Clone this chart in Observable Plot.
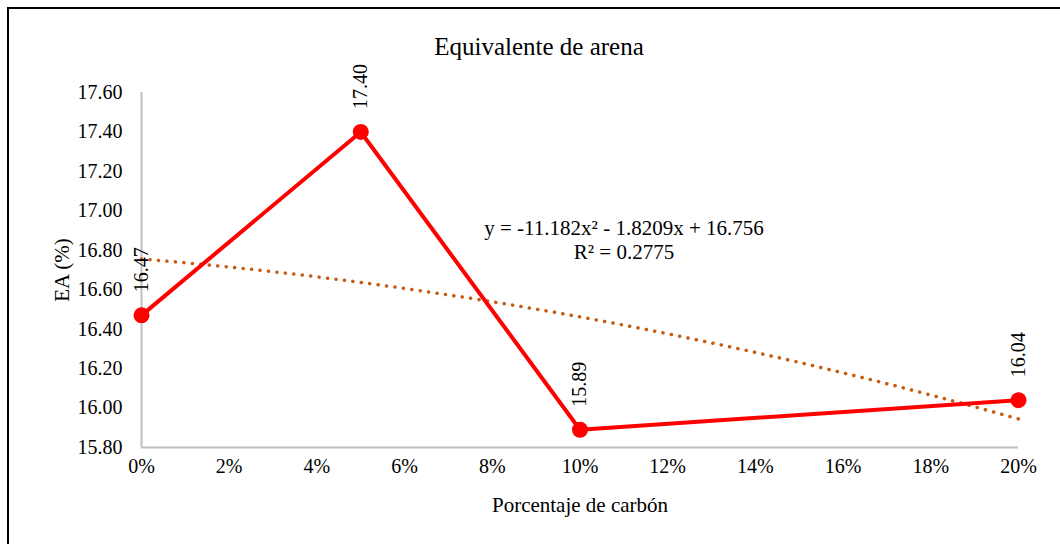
<!DOCTYPE html>
<html><head><meta charset="utf-8">
<script src="https://cdn.jsdelivr.net/npm/d3@7"></script>
<script src="https://cdn.jsdelivr.net/npm/@observablehq/plot@0.6"></script>
<style>
body{margin:0;background:#fff;font-family:'Liberation Serif',serif}
#wrap{position:relative;width:1060px;height:544px;overflow:hidden;background:#fff}
#frame{position:absolute;left:7px;top:7px;width:1100px;height:600px;border:2.5px solid #000;box-sizing:border-box;pointer-events:none}
#chart{position:absolute;left:0;top:0}
#chart svg, #chart svg text{font-family:'Liberation Serif',serif !important}
</style></head><body>
<div id="wrap"><div id="chart"></div><div id="frame"></div></div>
<script>
// Data
const carbon = [0, 0.05, 0.10, 0.20];
const ea = [16.47, 17.40, 15.89, 16.04];
const yTicks = [15.8, 16.0, 16.2, 16.4, 16.6, 16.8, 17.0, 17.2, 17.4, 17.6];
const xTicks = [0, 0.02, 0.04, 0.06, 0.08, 0.10, 0.12, 0.14, 0.16, 0.18, 0.20];
const trendCoef = [-11.182, -1.8209, 16.756]; // quadratic trendline from chart
const rSquared = 0.2775;
const titleText = "Equivalente de arena";
const xTitle = "Porcentaje de carbón";
const yTitle = "EA (%)";

const points = carbon.map((c, i) => ({x: c, y: ea[i]}));
const trend = d3.range(0, 0.2001, 0.0025).map(x => ({x, y: trendCoef[0]*x*x + trendCoef[1]*x + trendCoef[2]}));
const eqText = `y = ${trendCoef[0]}x² - ${Math.abs(trendCoef[1])}x + ${trendCoef[2]}\nR² = ${rSquared}`;

const font = "Liberation Serif, serif";
const chart = Plot.plot({
  width: 1060, height: 544,
  marginLeft: 141, marginRight: 42, marginTop: 92, marginBottom: 97,
  style: {fontFamily: font, fontSize: "20px", color: "#000", background: "#fff"},
  x: {domain: [0, 0.2]},
  y: {domain: [15.8, 17.6]},
  marks: [
    Plot.ruleX([0], {stroke: "#bfbfbf", strokeWidth: 2}),
    Plot.ruleY([15.8], {stroke: "#bfbfbf", strokeWidth: 2}),
    Plot.axisY(yTicks, {tickSize: 0, tickPadding: 19, tickFormat: d => d.toFixed(2), fontSize: 20, fontFamily: font, fill: "#000", label: null}),
    Plot.axisX(xTicks, {tickSize: 0, tickPadding: 11, tickFormat: d => Math.round(d*100) + "%", fontSize: 20, fontFamily: font, fill: "#000", label: null}),
    Plot.line(trend, {x: "x", y: "y", stroke: "#c55a11", strokeWidth: 3.5, strokeDasharray: "0.1 8.4", strokeLinecap: "round"}),
    Plot.line(points, {x: "x", y: "y", stroke: "#ff0000", strokeWidth: 4}),
    Plot.dot(points, {x: "x", y: "y", r: 8, fill: "#ff0000", stroke: "none"}),
    Plot.text(points, {x: "x", y: "y", text: d => d.y.toFixed(2), rotate: -90, textAnchor: "start", dy: -23, fontSize: 20, fontFamily: font, fill: "#000"}),
    Plot.text([titleText], {frameAnchor: "top", dx: -41, dy: -46, fontSize: 25, fontFamily: font, fill: "#000", lineAnchor: "middle"}),
    Plot.text([xTitle], {frameAnchor: "bottom", dx: 0, dy: 58, fontSize: 21, fontFamily: font, fill: "#000", lineAnchor: "middle"}),
    Plot.text([yTitle], {frameAnchor: "left", dx: -79, rotate: -90, textAnchor: "middle", fontSize: 21, fontFamily: font, fill: "#000", lineAnchor: "middle"}),
    Plot.text([eqText], {frameAnchor: "top", dx: 44, dy: 147, fontSize: 21, fontFamily: font, fill: "#000", lineAnchor: "middle", lineHeight: 1.15})
  ]
});
document.getElementById("chart").appendChild(chart);
</script>
</body></html>
